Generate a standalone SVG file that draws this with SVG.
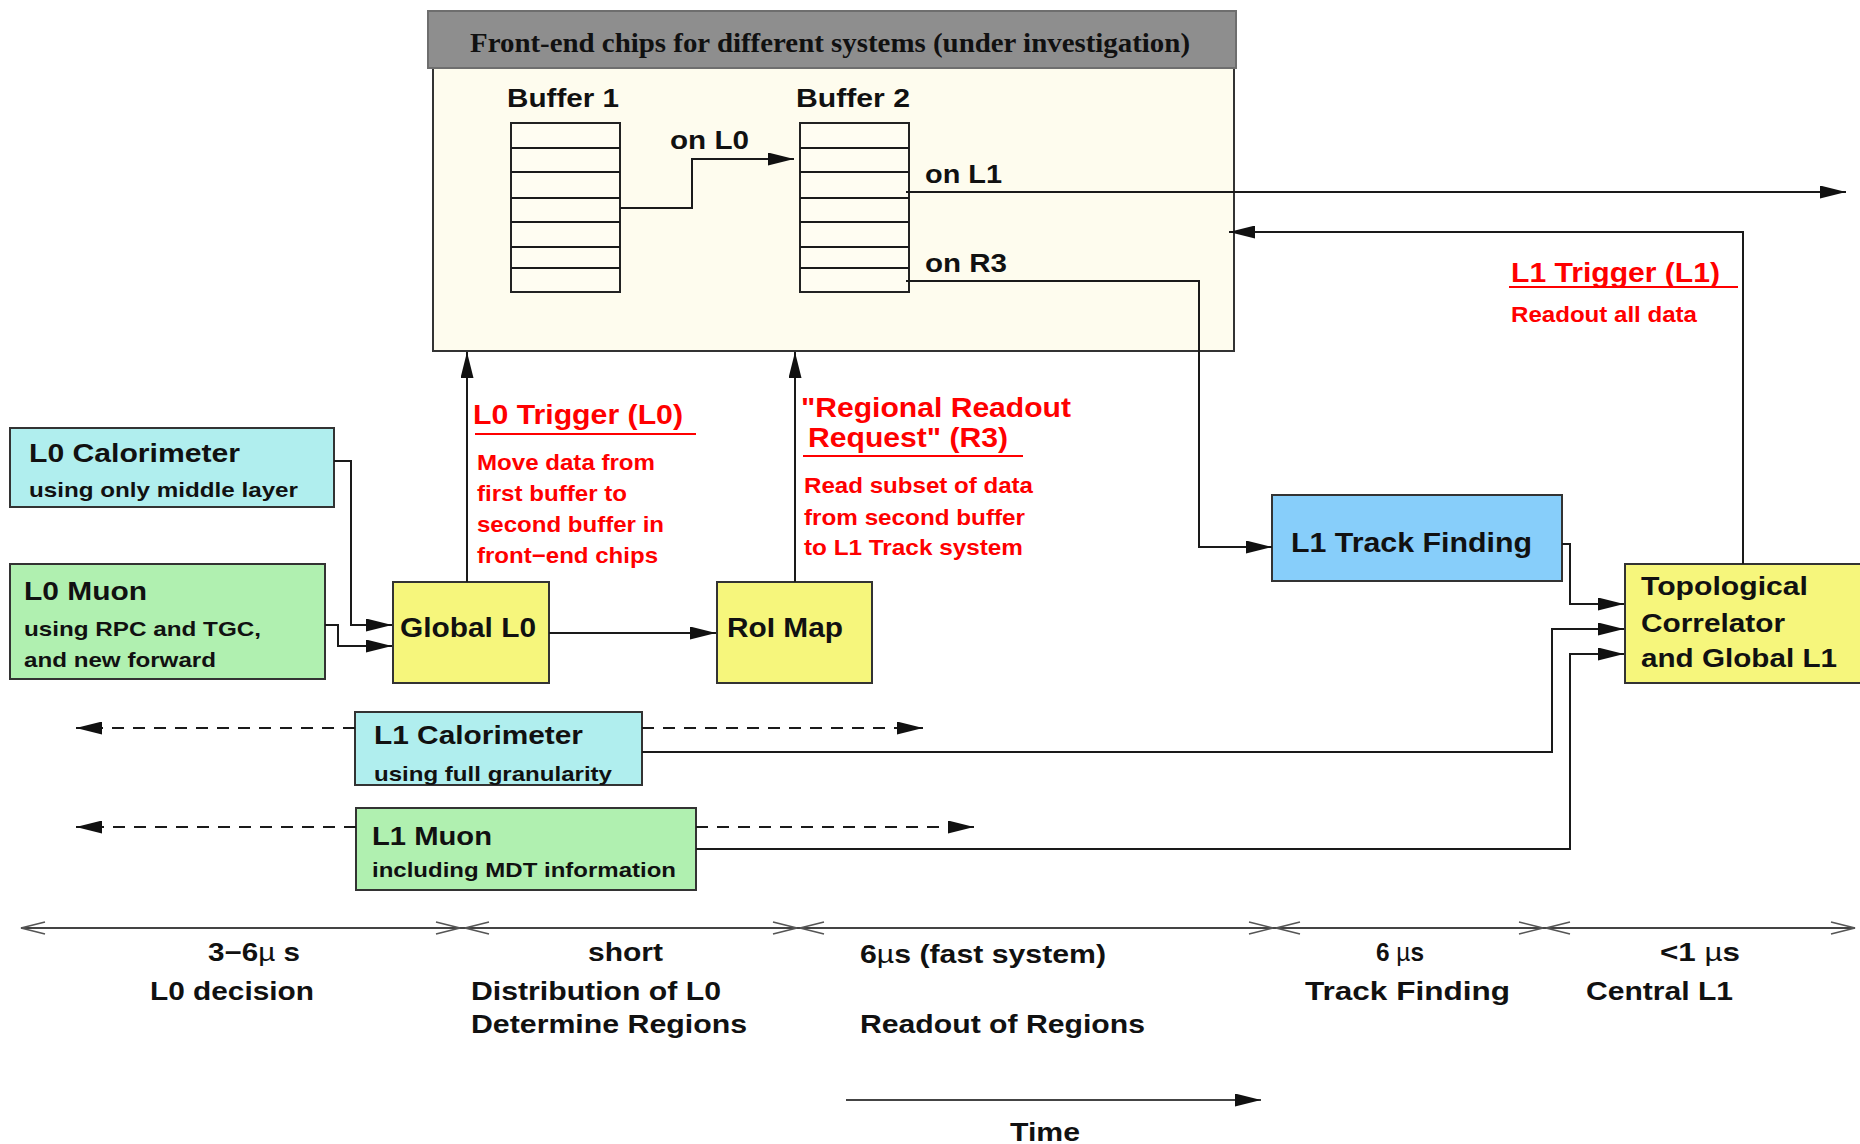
<svg xmlns="http://www.w3.org/2000/svg" width="1860" height="1144" viewBox="0 0 1860 1144">
  <defs>
    <style>
      .t { font-family: "Liberation Sans", Arial, Helvetica, sans-serif; font-weight: bold; fill: #111; }
      .serif { font-family: "Liberation Serif", "Times New Roman", serif; font-weight: bold; fill: #111; }
      .red { fill: #ff0000; }
      .mu { font-weight: normal; }
      .box { stroke: #333; stroke-width: 2; }
      .cyan { fill: #b0eeee; }
      .green { fill: #b0f0b0; }
      .yellow { fill: #f6f67c; }
      .blue { fill: #87cefa; }
      .cell { fill: #fffdf2; stroke: #222; stroke-width: 2; }
      .c { fill: none; stroke: #1a1a1a; stroke-width: 2; }
      .dash { stroke-dasharray: 12 9; }
      .ul { stroke: #ff0000; stroke-width: 2; }
      .tl { fill: none; stroke: #444; stroke-width: 2; }
      .ch { fill: none; stroke: #555; stroke-width: 1.6; }
    </style>
    <marker id="ah" markerUnits="userSpaceOnUse" markerWidth="26" markerHeight="13" refX="26" refY="6.5" orient="auto">
      <path d="M0,0 L26,6.5 L0,13 z" fill="#111"/>
    </marker>
  </defs>

  <rect x="0" y="0" width="1860" height="1144" fill="#ffffff"/>

  <!-- Front-end chips block -->
  <g id="frontend">
    <rect x="433" y="68" width="801" height="283" fill="#fefcee" class="box"/>
    <rect x="428" y="11" width="808" height="57" fill="#8e8e8e" stroke="#6e6e6e" stroke-width="2"/>
    <text class="serif" x="470" y="52" font-size="27" textLength="720" lengthAdjust="spacingAndGlyphs">Front-end chips for different systems (under investigation)</text>
  </g>

  <g id="buffer1">
    <text class="t" x="507" y="107" font-size="25" textLength="112" lengthAdjust="spacingAndGlyphs">Buffer 1</text>
    <rect x="511" y="123" width="109" height="169" class="cell"/>
    <path d="M511 148H620M511 172H620M511 198H620M511 222H620M511 247H620M511 268H620" class="c"/>
  </g>

  <g id="buffer2">
    <text class="t" x="796" y="107" font-size="25" textLength="114" lengthAdjust="spacingAndGlyphs">Buffer 2</text>
    <rect x="800" y="123" width="109" height="169" class="cell"/>
    <path d="M800 148H909M800 172H909M800 198H909M800 222H909M800 247H909M800 268H909" class="c"/>
  </g>

  <!-- Level-0 inputs -->
  <g id="l0calo">
    <rect x="10" y="428" width="324" height="79" class="box cyan"/>
    <text class="t" x="29" y="462" font-size="26" textLength="211" lengthAdjust="spacingAndGlyphs">L0 Calorimeter</text>
    <text class="t" x="29" y="497" font-size="21" textLength="269" lengthAdjust="spacingAndGlyphs">using only middle layer</text>
  </g>

  <g id="l0muon">
    <rect x="10" y="564" width="315" height="115" class="box green"/>
    <text class="t" x="24" y="600" font-size="26" textLength="123" lengthAdjust="spacingAndGlyphs">L0 Muon</text>
    <text class="t" x="24" y="636" font-size="21" textLength="237" lengthAdjust="spacingAndGlyphs">using RPC and TGC,</text>
    <text class="t" x="24" y="667" font-size="21" textLength="192" lengthAdjust="spacingAndGlyphs">and new forward</text>
  </g>

  <g id="globall0">
    <rect x="393" y="582" width="156" height="101" class="box yellow"/>
    <text class="t" x="400" y="637" font-size="27" textLength="136" lengthAdjust="spacingAndGlyphs">Global L0</text>
  </g>

  <g id="roimap">
    <rect x="717" y="582" width="155" height="101" class="box yellow"/>
    <text class="t" x="727" y="637" font-size="27" textLength="116" lengthAdjust="spacingAndGlyphs">RoI Map</text>
  </g>

  <!-- Level-1 systems -->
  <g id="l1track">
    <rect x="1272" y="495" width="290" height="86" class="box blue"/>
    <text class="t" x="1291" y="552" font-size="28" textLength="241" lengthAdjust="spacingAndGlyphs">L1 Track Finding</text>
  </g>

  <g id="topo">
    <rect x="1625" y="564" width="245" height="119" class="box yellow"/>
    <text class="t" x="1641" y="595" font-size="26" textLength="167" lengthAdjust="spacingAndGlyphs">Topological</text>
    <text class="t" x="1641" y="632" font-size="26" textLength="144" lengthAdjust="spacingAndGlyphs">Correlator</text>
    <text class="t" x="1641" y="667" font-size="26" textLength="196" lengthAdjust="spacingAndGlyphs">and Global L1</text>
  </g>

  <g id="l1calo">
    <rect x="355" y="712" width="287" height="73" class="box cyan"/>
    <text class="t" x="374" y="744" font-size="26" textLength="209" lengthAdjust="spacingAndGlyphs">L1 Calorimeter</text>
    <text class="t" x="374" y="781" font-size="21" textLength="238" lengthAdjust="spacingAndGlyphs">using full granularity</text>
  </g>

  <g id="l1muon">
    <rect x="356" y="808" width="340" height="82" class="box green"/>
    <text class="t" x="372" y="845" font-size="26" textLength="120" lengthAdjust="spacingAndGlyphs">L1 Muon</text>
    <text class="t" x="372" y="877" font-size="21" textLength="304" lengthAdjust="spacingAndGlyphs">including MDT information</text>
  </g>

  <!-- Connectors -->
  <g id="connectors">
    <path d="M620 208H692V159H794" class="c" marker-end="url(#ah)"/>
    <path d="M906 192H1846" class="c" marker-end="url(#ah)"/>
    <path d="M906 281H1199V547H1272" class="c" marker-end="url(#ah)"/>
    <path d="M334 461H351V625H392" class="c" marker-end="url(#ah)"/>
    <path d="M325 625H338V646H392" class="c" marker-end="url(#ah)"/>
    <path d="M467 582V352" class="c" marker-end="url(#ah)"/>
    <path d="M549 633H716" class="c" marker-end="url(#ah)"/>
    <path d="M795 582V352" class="c" marker-end="url(#ah)"/>
    <path d="M1562 544H1570V604H1624" class="c" marker-end="url(#ah)"/>
    <path d="M642 752H1552V629H1624" class="c" marker-end="url(#ah)"/>
    <path d="M696 849H1570V654H1624" class="c" marker-end="url(#ah)"/>
    <path d="M1743 564V232H1229" class="c" marker-end="url(#ah)"/>
    <path d="M355 728H76" class="c dash" marker-end="url(#ah)"/>
    <path d="M642 728H923" class="c dash" marker-end="url(#ah)"/>
    <path d="M356 827H76" class="c dash" marker-end="url(#ah)"/>
    <path d="M696 827H974" class="c dash" marker-end="url(#ah)"/>
  </g>

  <!-- Connector labels -->
  <g id="labels">
    <text class="t" x="670" y="149" font-size="25" textLength="79" lengthAdjust="spacingAndGlyphs">on L0</text>
    <text class="t" x="925" y="183" font-size="25" textLength="77" lengthAdjust="spacingAndGlyphs">on L1</text>
    <text class="t" x="925" y="272" font-size="25" textLength="82" lengthAdjust="spacingAndGlyphs">on R3</text>

    <text class="t red" x="473" y="424" font-size="28" textLength="210" lengthAdjust="spacingAndGlyphs">L0 Trigger (L0)</text>
    <line x1="475" y1="434" x2="696" y2="434" class="ul"/>
    <text class="t red" x="477" y="470" font-size="22" textLength="178" lengthAdjust="spacingAndGlyphs">Move data from</text>
    <text class="t red" x="477" y="501" font-size="22" textLength="150" lengthAdjust="spacingAndGlyphs">first buffer to</text>
    <text class="t red" x="477" y="532" font-size="22" textLength="187" lengthAdjust="spacingAndGlyphs">second buffer in</text>
    <text class="t red" x="477" y="563" font-size="22" textLength="181" lengthAdjust="spacingAndGlyphs">front−end chips</text>

    <text class="t red" x="801" y="417" font-size="28" textLength="270" lengthAdjust="spacingAndGlyphs">"Regional Readout</text>
    <text class="t red" x="808" y="447" font-size="28" textLength="200" lengthAdjust="spacingAndGlyphs">Request" (R3)</text>
    <line x1="803" y1="456" x2="1023" y2="456" class="ul"/>
    <text class="t red" x="804" y="493" font-size="22" textLength="229" lengthAdjust="spacingAndGlyphs">Read subset of data</text>
    <text class="t red" x="804" y="525" font-size="22" textLength="221" lengthAdjust="spacingAndGlyphs">from second buffer</text>
    <text class="t red" x="804" y="555" font-size="22" textLength="219" lengthAdjust="spacingAndGlyphs">to L1 Track system</text>

    <text class="t red" x="1511" y="282" font-size="28" textLength="209" lengthAdjust="spacingAndGlyphs">L1 Trigger (L1)</text>
    <line x1="1509" y1="287" x2="1738" y2="287" class="ul"/>
    <text class="t red" x="1511" y="322" font-size="22" textLength="186" lengthAdjust="spacingAndGlyphs">Readout all data</text>
  </g>

  <!-- Latency timeline -->
  <g id="timeline">
    <path d="M21 928H1855" class="tl"/>
    <path d="M45 922L21 928L45 934" class="ch"/>
    <path d="M436 922L460 928L436 934" class="ch"/>
    <path d="M489 922L465 928L489 934" class="ch"/>
    <path d="M773 922L797 928L773 934" class="ch"/>
    <path d="M824 922L800 928L824 934" class="ch"/>
    <path d="M1249 922L1273 928L1249 934" class="ch"/>
    <path d="M1300 922L1276 928L1300 934" class="ch"/>
    <path d="M1519 922L1543 928L1519 934" class="ch"/>
    <path d="M1570 922L1546 928L1570 934" class="ch"/>
    <path d="M1831 922L1855 928L1831 934" class="ch"/>

    <text class="t" x="208" y="961" font-size="25" textLength="92" lengthAdjust="spacingAndGlyphs">3−6<tspan class="mu">µ</tspan> s</text>
    <text class="t" x="150" y="1000" font-size="26" textLength="164" lengthAdjust="spacingAndGlyphs">L0 decision</text>

    <text class="t" x="588" y="961" font-size="25" textLength="75" lengthAdjust="spacingAndGlyphs">short</text>
    <text class="t" x="471" y="1000" font-size="26" textLength="250" lengthAdjust="spacingAndGlyphs">Distribution of L0</text>
    <text class="t" x="471" y="1033" font-size="26" textLength="276" lengthAdjust="spacingAndGlyphs">Determine Regions</text>

    <text class="t" x="860" y="963" font-size="26" textLength="246" lengthAdjust="spacingAndGlyphs">6<tspan class="mu">µ</tspan>s (fast system)</text>
    <text class="t" x="860" y="1033" font-size="26" textLength="285" lengthAdjust="spacingAndGlyphs">Readout of Regions</text>

    <text class="t" x="1376" y="961" font-size="25" textLength="48" lengthAdjust="spacingAndGlyphs">6 <tspan class="mu">µ</tspan>s</text>
    <text class="t" x="1305" y="1000" font-size="26" textLength="205" lengthAdjust="spacingAndGlyphs">Track Finding</text>

    <text class="t" x="1660" y="961" font-size="25" textLength="80" lengthAdjust="spacingAndGlyphs">&lt;1 <tspan class="mu">µ</tspan>s</text>
    <text class="t" x="1586" y="1000" font-size="26" textLength="147" lengthAdjust="spacingAndGlyphs">Central L1</text>

    <path d="M846 1100H1261" class="tl" marker-end="url(#ah)"/>
    <text class="t" x="1010" y="1141" font-size="26" textLength="70" lengthAdjust="spacingAndGlyphs">Time</text>
  </g>
</svg>
